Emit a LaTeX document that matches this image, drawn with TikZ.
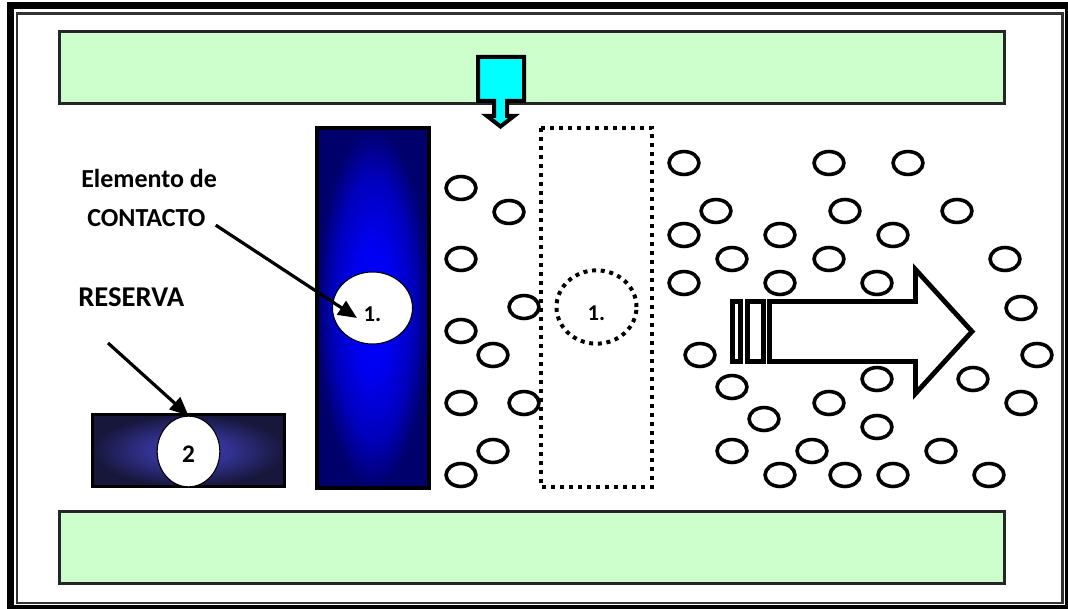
\documentclass[tikz,border=0pt]{standalone}
\usepackage{fontspec}
\setmainfont{Carlito}
\usepackage{tikz}
\usetikzlibrary{positioning,arrows.meta,calc,shapes.geometric}
\definecolor{pale}{HTML}{CCFFCC}
\definecolor{nozzle}{HTML}{00FFFF}
\definecolor{deepblue}{HTML}{00006C}
\definecolor{brightblue}{HTML}{0000FF}
\definecolor{resdark}{HTML}{17173C}
\definecolor{reslight}{HTML}{3838A6}
\pgfdeclareradialshading{columnglow}{\pgfpoint{0bp}{0bp}}{color(0bp)=(brightblue);
   color(9bp)=(brightblue!90!deepblue); color(18bp)=(brightblue!55!deepblue);
   color(25bp)=(deepblue); color(50bp)=(deepblue)}
\pgfdeclareradialshading{reserveglow}{\pgfpoint{0bp}{0bp}}{color(0bp)=(reslight);
   color(10bp)=(reslight!85!resdark); color(25bp)=(resdark); color(50bp)=(resdark)}

\begin{document}
\begin{tikzpicture}[x=0.75pt,y=-0.75pt,font=\bfseries,
   band/.style={draw=black!85,line width=1.6pt,fill=pale},
   bubble/.style={draw,line width=2.7pt,fill=white},
   hollow/.style={draw,line width=3.6pt,fill=white},
   spot/.style={ellipse,draw,fill=white,line width=0.8pt,inner sep=0pt},
   ptr/.style={-{Triangle[length=14pt,width=12pt]},line width=2.4pt},
   lbl/.style={anchor=base west,inner sep=0pt,font=\bfseries\fontsize{19.5}{22}\selectfont}]
\useasboundingbox (0,0) rectangle (1068,609);
\draw[line width=5.3pt] (10.5,5.5) rectangle (1068.5,608.5);
\draw[line width=1.6pt,draw=black!80] (17,13.5) rectangle (1062.5,603);
\draw[band] (59.5,31.5) rectangle (1004.5,103.5);
\draw[band] (59.5,511.5) rectangle (1004.5,583.5);
\foreach \x/\y in {461/188,509/212,461/259,524/307,461/331,493/355,461/403,524/403,493/451,461/475,
   684/163,829/163,908/163,716/211,845/211,957/211,684/235,780/235,893/235,732/259,829/259,1005/259,
   684/283,780/283,877/283,1021/308,700/355,1037/355,732/387,877/379,973/379,829/403,1021/403,
   764/419,877/427,732/451,812/451,941/451,780/475,845/475,893/475,989/475}
   \draw[bubble] (\x,\y) ellipse (11.2pt and 8.6pt);
\draw[line width=3pt,dash pattern=on 3pt off 3.75pt] (541,128) rectangle (652,487);
\draw[draw,line width=3pt,fill=nozzle] (478,57) -- (524,57) -- (524,101) -- (507,101) -- (507,116)
   -- (514,116) -- (500.5,126.5) -- (487,116) -- (494,116) -- (494,101) -- (478,101) -- cycle;
\shade[draw,line width=2.6pt,shading=columnglow] (317,128) rectangle (429,488);
\shade[draw,line width=2.4pt,shading=reserveglow] (92.5,414.5) rectangle (284.5,486.5);
\node[spot,minimum width=60pt,minimum height=54pt,text height=19.7pt,
   font=\bfseries\fontsize{17}{17}\selectfont] (uno) at (372.5,308) {1.};
\node[spot,minimum width=47pt,minimum height=53pt,text height=16.5pt,
   font=\bfseries\fontsize{19}{19}\selectfont] (dos) at (188.5,451.5) {2};
\node[ellipse,draw,fill=none,line width=3pt,dash pattern=on 3pt off 3.5pt,inner sep=0pt,
   minimum width=60pt,minimum height=55pt,text height=20.5pt,
   font=\bfseries\fontsize{17}{17}\selectfont] (ghost) at (596.5,307) {1.};
\node[lbl] (elem) at (81,188) {Elemento de};
\node[lbl] (contacto) at (87,227) {CONTACTO};
\node[lbl,font=\bfseries\fontsize{21.5}{24}\selectfont] (reserva) at (78,307) {RESERVA};
\coordinate (tipuno) at (357,318);
\coordinate (tailres) at (108,343);
\draw[ptr,shorten <=9pt] (contacto.east) -- (tipuno);
\draw[ptr] (tailres) -- (dos.north);
\draw[hollow] (732.5,301.5) rectangle (740.5,361.5);
\draw[hollow] (747.5,301.5) rectangle (763.5,361.5);
\draw[hollow] (769.5,301.5) -- (915.5,301.5) -- (915.5,269.5) -- (972,331.5) -- (915.5,393.5)
   -- (915.5,361.5) -- (769.5,361.5) -- cycle;
\end{tikzpicture}
\end{document}
